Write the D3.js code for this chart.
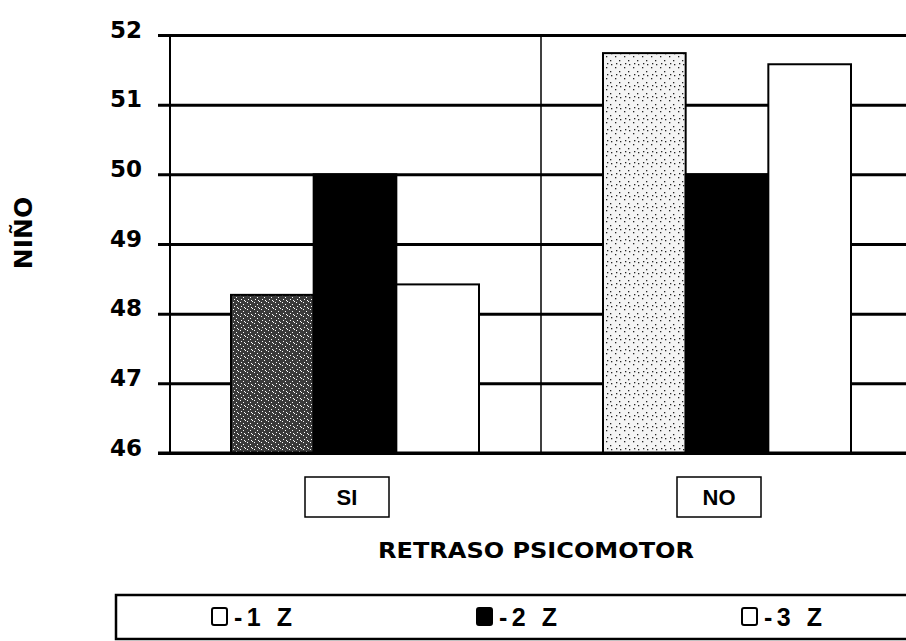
<!DOCTYPE html>
<html>
<meta charset="utf-8">
<style>
body { margin: 0; background: #fff; overflow: hidden; }
svg { display: block; }
text { font-family: "DejaVu Sans", sans-serif; font-weight: bold; fill: #000; }
</style>
<body>
<script src="https://d3js.org/d3.v7.min.js"></script>
<script>
// data
var categories = ["SI", "NO"];
var series = ["1 Z", "2 Z", "3 Z"];
var values1 = [48.27, 51.74];
var values2 = [50.0, 50.0];
var values3 = [48.42, 51.58];
var yTicks = [46, 47, 48, 49, 50, 51, 52];
var yLabel = "NIÑO";
var xLabel = "RETRASO PSICOMOTOR";

var width = 906, height = 641;

var svg = d3.select("body").append("svg")
    .attr("width", width)
    .attr("height", height);

// speckle patterns for the first series (scan texture)
var defs = svg.append("defs");
var dense = defs.append("pattern").attr("id", "speckDense")
    .attr("patternUnits", "userSpaceOnUse").attr("width", 7).attr("height", 7);
dense.append("rect").attr("width", 7).attr("height", 7).attr("fill", "#3a3a3a");
[[1,1],[4,3],[2,5],[6,0],[5,6]].forEach(function(p) {
  dense.append("rect").attr("x", p[0]).attr("y", p[1]).attr("width", 1).attr("height", 1).attr("fill", "#fff");
});
var light = defs.append("pattern").attr("id", "speckLight")
    .attr("patternUnits", "userSpaceOnUse").attr("width", 9).attr("height", 11);
light.append("rect").attr("width", 9).attr("height", 11).attr("fill", "#f4f4f4");
[[2,1],[6,5],[3,8],[7,9]].forEach(function(p) {
  light.append("rect").attr("x", p[0]).attr("y", p[1]).attr("width", 1.3).attr("height", 1.3).attr("fill", "#222");
});
var fill1 = ["url(#speckDense)", "url(#speckLight)"];

// scales
var x0 = d3.scaleBand().domain(categories).range([169, 913]).padding(0);
var x1 = d3.scaleBand().domain(series).range([0, x0.bandwidth()])
    .paddingInner(0).paddingOuter(0.75);
var y = d3.scaleLinear().domain([46, 52]).range([453, 35]);

var rows = categories.map(function(c, i) {
  return { cat: c, i: i, vals: [values1[i], values2[i], values3[i]] };
});

// grid lines (thick) with tick stubs to the left of the axis
svg.append("g")
    .attr("transform", "translate(169,0)")
    .call(d3.axisLeft(y).tickValues(yTicks).tickSize(-(width - 169)).tickPadding(27).tickFormat(d3.format("d")))
    .call(function(g) {
      g.select(".domain").remove();
      g.selectAll(".tick line").attr("x1", -11).attr("stroke", "#000").attr("stroke-width", 3);
      g.selectAll(".tick text").attr("font-size", 23).attr("dy", "0.1em")
        .style("font-family", "DejaVu Sans").style("font-weight", "bold").attr("fill", "#000");
    });

// left axis line and category separator
svg.append("line").attr("x1", 170).attr("x2", 170).attr("y1", y(52)).attr("y2", y(46))
    .attr("stroke", "#000").attr("stroke-width", 2);
svg.append("line").attr("x1", x0("NO")).attr("x2", x0("NO")).attr("y1", y(52)).attr("y2", y(46))
    .attr("stroke", "#000").attr("stroke-width", 1.5);

// bars
var groups = svg.selectAll(".grp").data(rows).enter().append("g")
    .attr("class", "grp")
    .attr("transform", function(d) { return "translate(" + x0(d.cat) + ",0)"; });

groups.selectAll("rect").data(function(d) {
    return d.vals.map(function(v, k) { return { s: series[k], v: v, k: k, i: d.i }; });
  })
  .enter().append("rect")
    .attr("x", function(d) { return x1(d.s); })
    .attr("y", function(d) { return y(d.v); })
    .attr("width", x1.bandwidth())
    .attr("height", function(d) { return y(46) - y(d.v); })
    .attr("fill", function(d) {
      if (d.k === 0) return fill1[d.i];
      if (d.k === 1) return "#000";
      return "#fff";
    })
    .attr("stroke", "#000")
    .attr("stroke-width", 2);

// bottom baseline redrawn on top
svg.append("line").attr("x1", 158).attr("x2", width).attr("y1", y(46)).attr("y2", y(46))
    .attr("stroke", "#000").attr("stroke-width", 3);

// boxed category labels
var cl = svg.selectAll(".catlab").data(categories).enter().append("g")
    .attr("class", "catlab")
    .attr("transform", function(d) { return "translate(" + (x0(d) + x0.bandwidth() / 2 - 8) + ",497)"; });
cl.append("rect").attr("x", -42).attr("y", -20).attr("width", 84).attr("height", 40)
    .attr("fill", "#fff").attr("stroke", "#000").attr("stroke-width", 1.5);
cl.append("text").attr("text-anchor", "middle").attr("dy", "0.36em")
    .style("font-family", "Liberation Sans, Arial, sans-serif")
    .attr("font-size", 22).text(function(d) { return d; });

// axis titles
svg.append("text")
    .attr("x", 536).attr("y", 558)
    .attr("text-anchor", "middle")
    .attr("font-size", 22)
    .attr("textLength", 316).attr("lengthAdjust", "spacingAndGlyphs")
    .text(xLabel);

svg.append("text")
    .attr("transform", "translate(32,233) rotate(-90)")
    .attr("text-anchor", "middle")
    .attr("font-size", 25)
    .text(yLabel);

// legend box: open on the right, it runs off the picture
svg.append("path")
    .attr("d", "M" + width + ",595H116V639H" + width)
    .attr("fill", "none").attr("stroke", "#000").attr("stroke-width", 2.5);

var legendFill = ["#fff", "#000", "#fff"];
var leg = svg.selectAll(".legend").data(series).enter().append("g")
    .attr("class", "legend")
    .attr("transform", function(d, i) { return "translate(" + (212 + i * 265) + ",0)"; });
leg.append("rect").attr("x", 0).attr("y", 608).attr("width", 15).attr("height", 17)
    .attr("rx", 2)
    .attr("fill", function(d, i) { return legendFill[i]; })
    .attr("stroke", "#000").attr("stroke-width", 2);
leg.append("text")
    .attr("x", 22).attr("y", 626)
    .style("font-family", "Liberation Sans, Arial, sans-serif")
    .attr("font-size", 25)
    .attr("textLength", 58).attr("lengthAdjust", "spacing")
    .text(function(d) { return "-" + d; });
</script>
</body>
</html>
